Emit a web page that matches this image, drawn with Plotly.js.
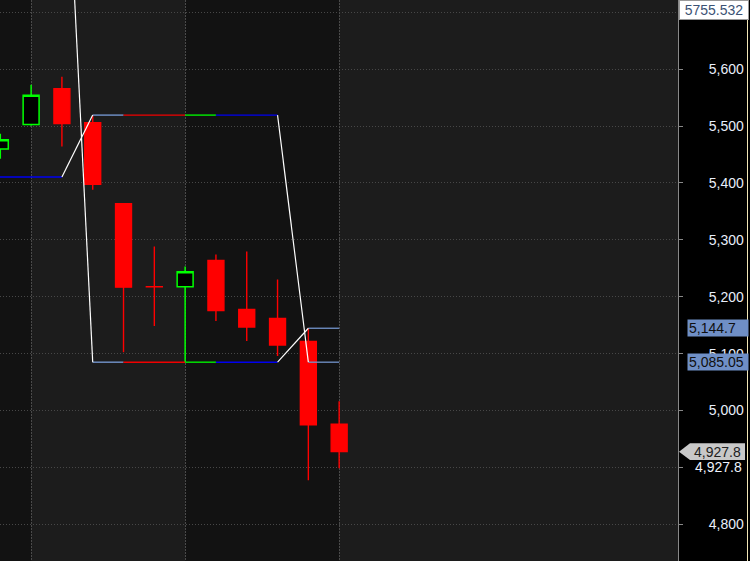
<!DOCTYPE html>
<html>
<head>
<meta charset="utf-8">
<script src="https://cdn.plot.ly/plotly-3.0.1.min.js"></script>
<style>html,body{margin:0;padding:0;background:#000;}#chart{width:750px;height:561px;}</style>
</head>
<body>
<div id="chart"></div>
<script>
// ---- data ----
const barIndex = [0, 1, 2, 3, 4, 5, 6, 7, 8, 9, 10, 11];
const openV  = [5459.7, 5502.8, 5565.5, 5505.8, 5363.7, 5217.7, 5217.6, 5263.7, 5177.7, 5162.0, 5121.6, 4976.0];
const highV  = [5486.5, 5572.5, 5586.5, 5519.3, 5363.7, 5288.3, 5253.2, 5274.2, 5279.5, 5230.4, 5144.7, 5016.3];
const lowV   = [5442.6, 5500.5, 5464.3, 5388.3, 5102.3, 5148.5, 5085.05, 5157.2, 5122.1, 5095.8, 4877.7, 4898.8];
const closeV = [5476.0, 5554.4, 5504.6, 5397.6, 5216.9, 5217.6, 5243.8, 5176.0, 5146.7, 5115.1, 4974.8, 4927.8];

// channel (box) drawing
const channelLevels = [5519.3, 5085.05];
const segStart = [3, 4, 6, 7];
const segEnd   = [4, 6, 7, 9];
const extLevels = [5144.7, 5085.05];
const extStart = 10, extEnd = 11;
const leftLevel = 5410.5, leftStart = -1, leftEnd = 2;
const connX = [[2, 3], [2, 3], [9, 10], [9, 10]];
const connY = [[5410.5, 5519.3], [6170, 5085.05], [5519.3, 5085.05], [5085.05, 5144.7]];

// axis / labels
const yTickVals = [4800, 4900, 5000, 5100, 5200, 5300, 5400, 5500, 5600, 5700];
const yTickText = ['4,800', '', '5,000', '5,100', '5,200', '5,300', '5,400', '5,500', '5,600', ''];
const weekStarts = [1, 6, 11];
const darkBands = [[-1, 1], [6, 11]];
const cursorLabel = '5755.532';
const lastPrice = 4927.8;
const lastPriceText = '4,927.8';
const levelTags = [[5144.7, '5,144.7'], [5085.05, '5,085.05']];

// ---- styles ----
const segColors = ['#7394cc', '#f00000', '#00f000', '#0000f0'];
const steel = '#6f8fc6';
const plotW = 678;
const px = p => p / plotW; // pixel -> paper x

const traces = [];
channelLevels.forEach(lv => {
  segStart.forEach((s, i) => {
    traces.push({type: 'scatter', mode: 'lines', x: [s, segEnd[i]], y: [lv, lv],
      line: {color: segColors[i], width: 1.4}, hoverinfo: 'skip', showlegend: false});
  });
});
extLevels.forEach(lv => {
  traces.push({type: 'scatter', mode: 'lines', x: [extStart, extEnd], y: [lv, lv],
    line: {color: '#7394cc', width: 1.3}, hoverinfo: 'skip', showlegend: false});
});
traces.push({type: 'scatter', mode: 'lines', x: [leftStart, leftEnd], y: [leftLevel, leftLevel],
  line: {color: '#0000f0', width: 1.4}, hoverinfo: 'skip', showlegend: false});
connX.forEach((cx, i) => {
  traces.push({type: 'scatter', mode: 'lines', x: cx, y: connY[i],
    line: {color: '#ffffff', width: 1.2}, hoverinfo: 'skip', showlegend: false});
});
traces.push({
  type: 'candlestick', x: barIndex, open: openV, high: highV, low: lowV, close: closeV,
  increasing: {line: {color: '#00ff00', width: 1.5}, fillcolor: '#000000'},
  decreasing: {line: {color: '#ff0000', width: 1.4}, fillcolor: '#ff0000'},
  whiskerwidth: 0, hoverinfo: 'skip', showlegend: false
});

const shapes = darkBands.map(b => ({type: 'rect', xref: 'x', yref: 'paper', x0: b[0], x1: b[1], y0: 0, y1: 1,
  fillcolor: '#121212', line: {width: 0}, layer: 'below'}));
const hh = 8.3 / 0.57;
shapes.push({type: 'path', xref: 'paper', yref: 'y', layer: 'above',
  path: `M ${px(679)},${lastPrice} L ${px(690)},${lastPrice + hh} L ${px(745)},${lastPrice + hh} L ${px(745)},${lastPrice - hh} L ${px(690)},${lastPrice - hh} Z`,
  fillcolor: '#c8c8c8', line: {width: 0}});
shapes.push({type: 'line', xref: 'paper', yref: 'paper', x0: px(747.5), x1: px(747.5), y0: 0, y1: 1,
  line: {color: '#f2e6b6', width: 1}});

const annotations = [];
annotations.push({xref: 'paper', yref: 'paper', x: px(679), y: 1, xanchor: 'left', yanchor: 'top',
  text: cursorLabel, showarrow: false, bgcolor: '#ffffff', bordercolor: '#9a9a9a', borderwidth: 1,
  borderpad: 1, width: 66, height: 16, font: {family: 'Liberation Sans, Arial', size: 14, color: '#3b5274'}});
levelTags.forEach(t => {
  annotations.push({xref: 'paper', yref: 'y', x: px(687), y: t[0], xanchor: 'left', yanchor: 'middle',
    text: t[1], showarrow: false, bgcolor: steel, borderpad: 1, width: 58, height: 14, align: 'left',
    font: {family: 'Liberation Sans, Arial', size: 14, color: '#101010'}});
});
annotations.push({xref: 'paper', yref: 'y', x: px(743), y: lastPrice, xanchor: 'right', yanchor: 'middle',
  text: lastPriceText, showarrow: false, font: {family: 'Liberation Sans, Arial', size: 14, color: '#202020'}});
annotations.push({xref: 'paper', yref: 'y', x: px(744), y: 4900, xanchor: 'right', yanchor: 'middle',
  text: lastPriceText, showarrow: false, font: {family: 'Liberation Sans, Arial', size: 14, color: '#eef2fb'}});

const layout = {
  width: 750, height: 561,
  margin: {l: 0, r: 72, t: 0, b: 0, pad: 0},
  paper_bgcolor: '#000000', plot_bgcolor: '#1c1c1c',
  showlegend: false, boxgap: 0.26,
  xaxis: {range: [-0.01, 22], rangeslider: {visible: false}, showticklabels: false, ticks: '',
    tickvals: weekStarts, showgrid: true, gridcolor: '#4a4a4a', griddash: '2px,1px', gridwidth: 1,
    zeroline: false, showline: false, fixedrange: true},
  yaxis: {range: [4735.6, 5721.6], side: 'right', tickvals: yTickVals, ticktext: yTickText,
    showgrid: true, gridcolor: '#474747', griddash: '1px,2px', gridwidth: 1,
    ticks: 'outside', ticklen: 4, tickcolor: '#888888', showline: true, linecolor: '#888888', linewidth: 1,
    ticklabelstandoff: 23, tickfont: {family: 'Liberation Sans, Arial', size: 14, color: '#e8eefa'},
    zeroline: false, fixedrange: true},
  shapes: shapes, annotations: annotations
};
Plotly.newPlot('chart', traces, layout, {staticPlot: true, displayModeBar: false});
</script>
</body>
</html>
